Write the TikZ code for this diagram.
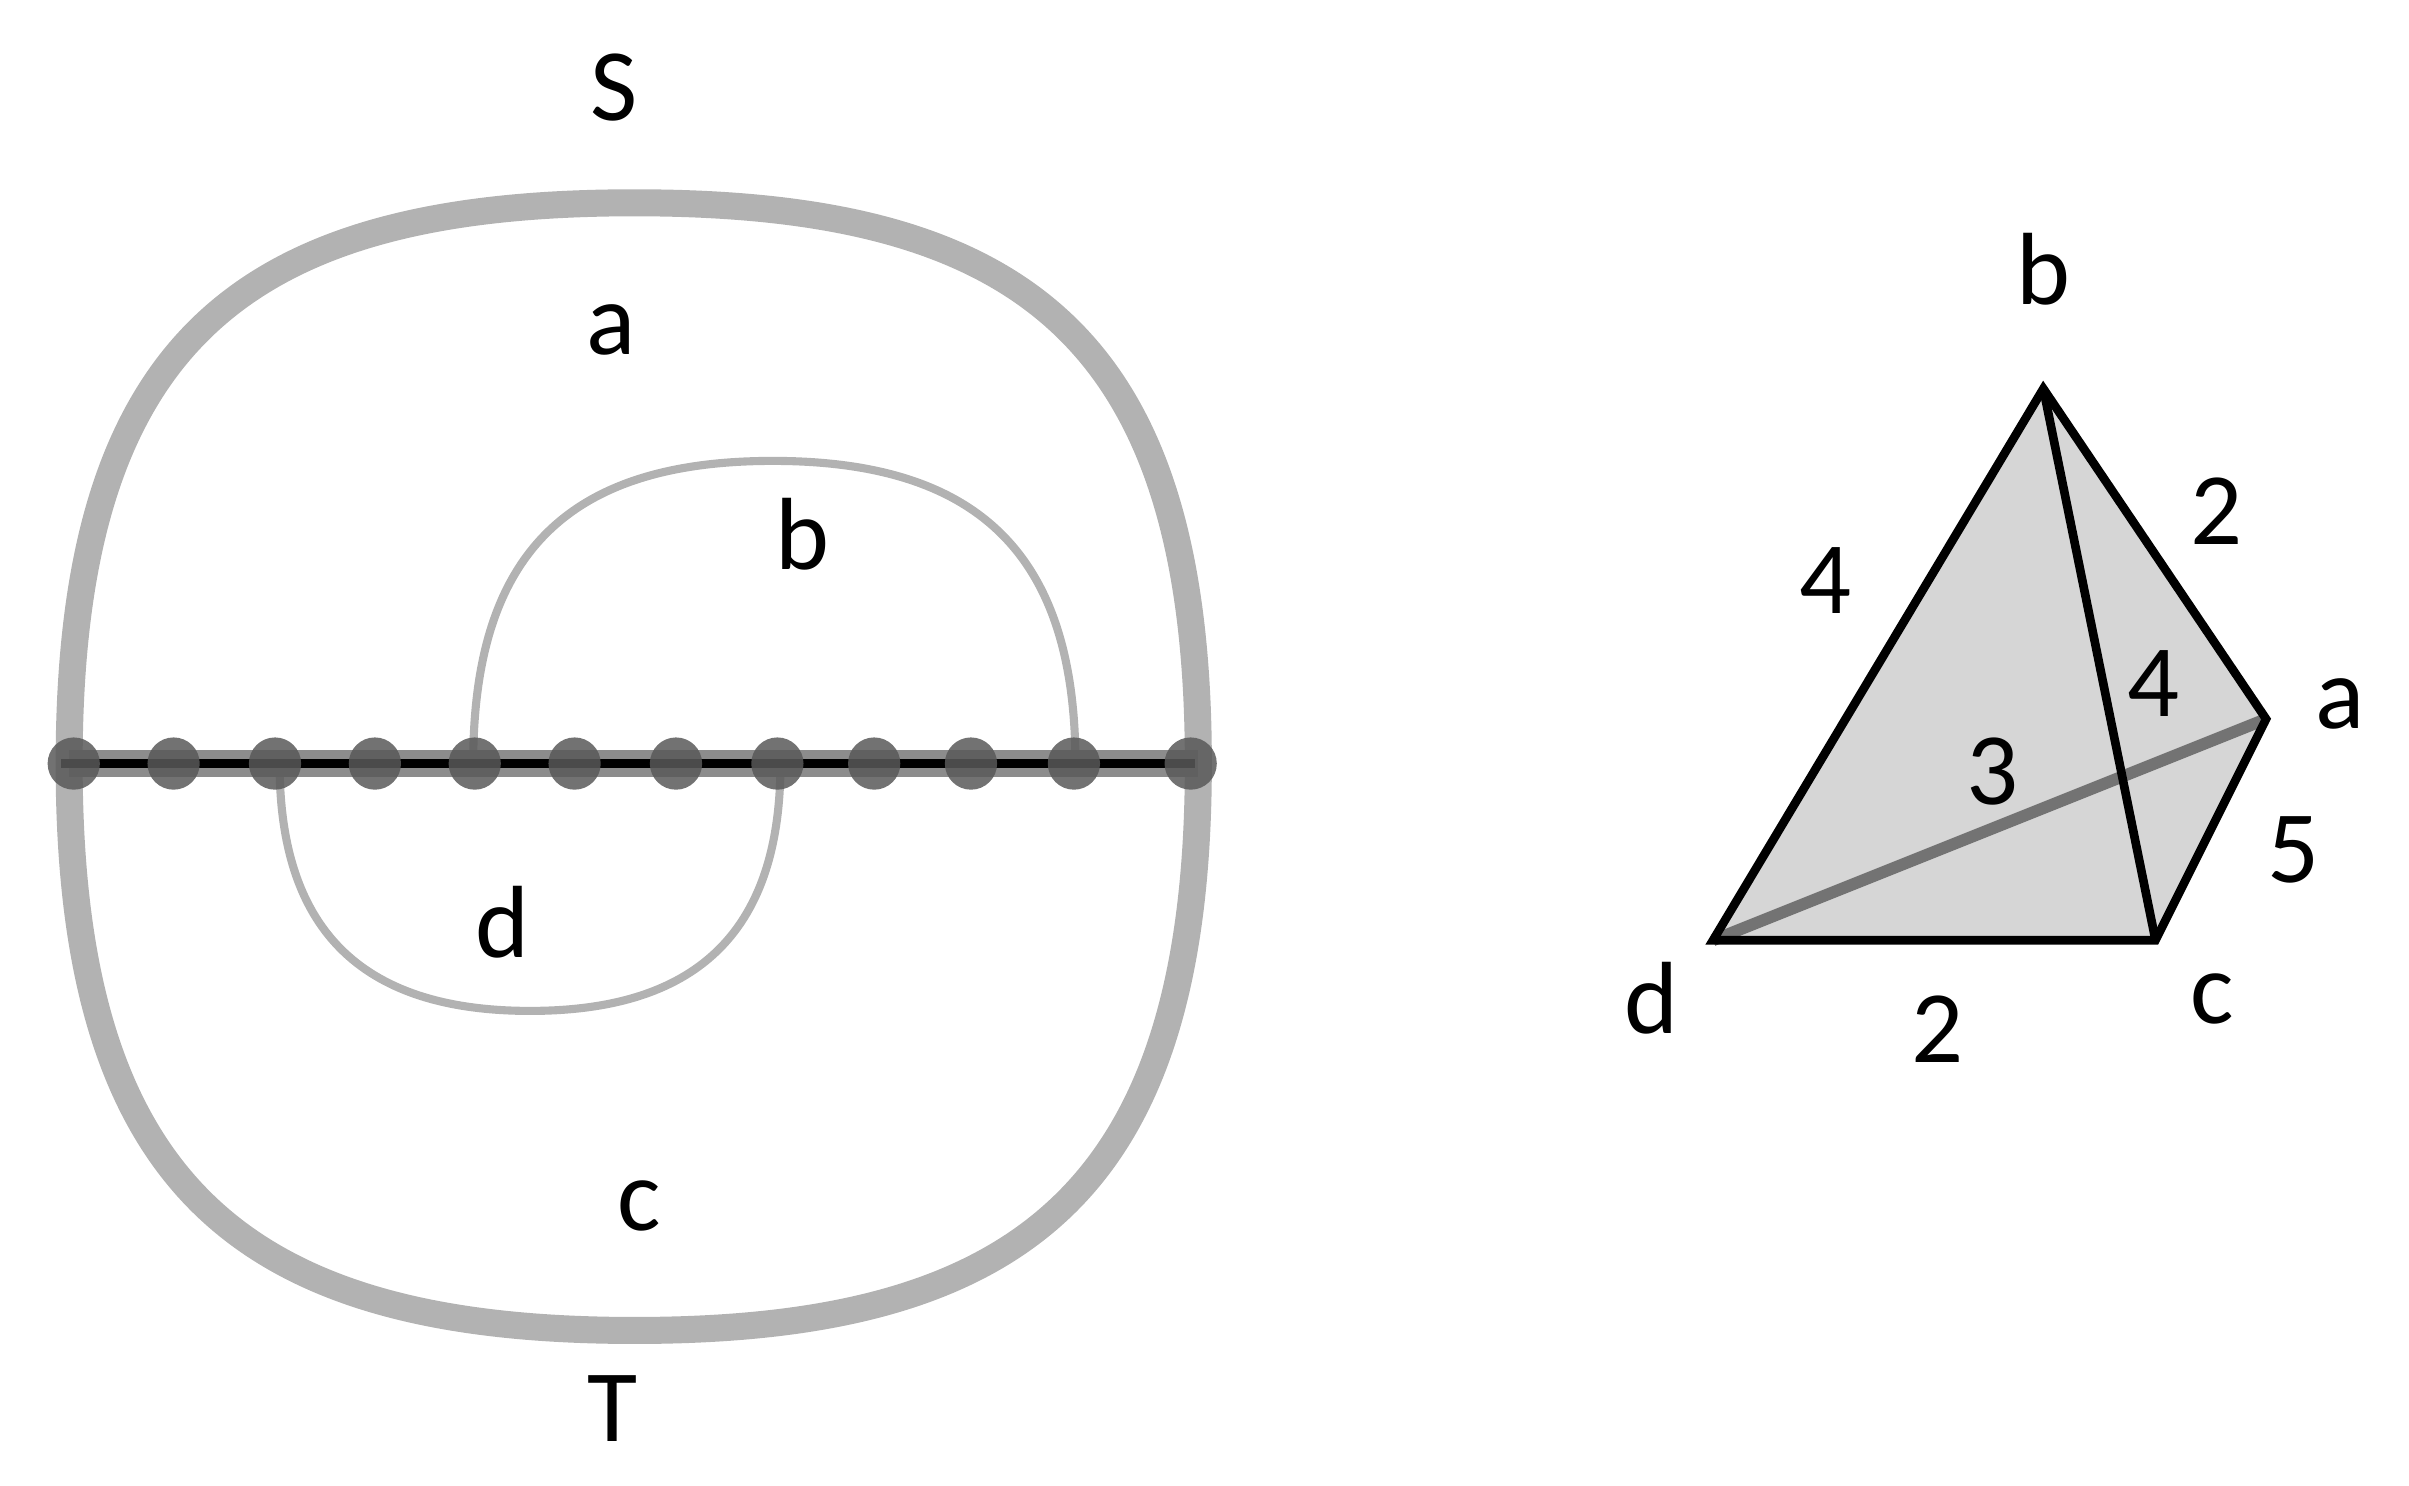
\documentclass[tikz,border=0pt]{standalone}
\usepackage{fontspec}
\setmainfont{Carlito}
\begin{document}
\begin{tikzpicture}[x=0.01cm,y=-0.01cm,
  lbl/.style={font=\fontsize{19}{22}\selectfont, inner sep=0pt},
  outer/.style={draw=black!30, line width=5pt},
  inner/.style={draw=black!30, line width=1.5pt},
  dot/.style={circle, fill=black!65, opacity=0.85, minimum size=0.34cm, inner sep=0pt},
  edge/.style={draw=black, line width=1.6pt}]
\useasboundingbox (0,0) rectangle (1568,967);
% outer loop
\coordinate (L) at (45,497); \coordinate (R) at (780,497);
\coordinate (Tp) at (413,132); \coordinate (Bt) at (413,866);
\draw[outer] (L) .. controls (45,220) and (160,132) .. (Tp)
  .. controls (666,132) and (780,220) .. (R)
  .. controls (780,774) and (666,866) .. (Bt)
  .. controls (160,866) and (45,774) .. (L);
% inner loops
\coordinate (b1) at (308,497); \coordinate (b2) at (700,497); \coordinate (bt) at (503,300);
\draw[inner] (b1) .. controls (308,360) and (370,300) .. (bt) .. controls (636,300) and (700,360) .. (b2);
\coordinate (d1) at (182,497); \coordinate (d2) at (508,497); \coordinate (db) at (345,658);
\draw[inner] (d1) .. controls (182,610) and (240,658) .. (db) .. controls (450,658) and (508,610) .. (d2);
% bar
\draw[draw=black!45, line width=5pt] (L) -- (R);
\draw[black, line width=1.8pt] (40,497) -- (778,497);
\foreach \x [count=\i] in {48,113,179,244,309,374,440,506,569,632,699,775}
  \node[dot] (p\i) at (\x,497) {};
% labels
\node[lbl] (S) at (400,57) {S};
\node[lbl] (la) at (398,215) {a};
\node[lbl] (lb) at (522,348) {b};
\node[lbl] (ld) at (327,600) {d};
\node[lbl] (lc) at (416,785) {c};
\node[lbl] (T) at (399,917) {T};
% tetrahedron
\coordinate (B) at (1330,253); \coordinate (A) at (1475,468);
\coordinate (C) at (1403,612); \coordinate (D) at (1115,612);
\fill[black!16] (D) -- (B) -- (A) -- (C) -- cycle;
\draw[black!55, line width=2.2pt] (D) -- (A);
\draw[edge, line join=miter] (D) -- (B) -- (A) -- (C) -- cycle;
\draw[edge] (B) -- (C);
\node[lbl] (tb) at (1330,175) {b};
\node[lbl] (ta) at (1523,458) {a};
\node[lbl] (tc) at (1440,650) {c};
\node[lbl] (td) at (1075,650) {d};
\node[lbl] (e1) at (1188,378) {4};
\node[lbl] (e2) at (1443,333) {2};
\node[lbl] (e3) at (1402,445) {4};
\node[lbl] (e4) at (1297,502) {3};
\node[lbl] (e5) at (1493,553) {5};
\node[lbl] (e6) at (1261,670) {2};
\end{tikzpicture}
\end{document}
